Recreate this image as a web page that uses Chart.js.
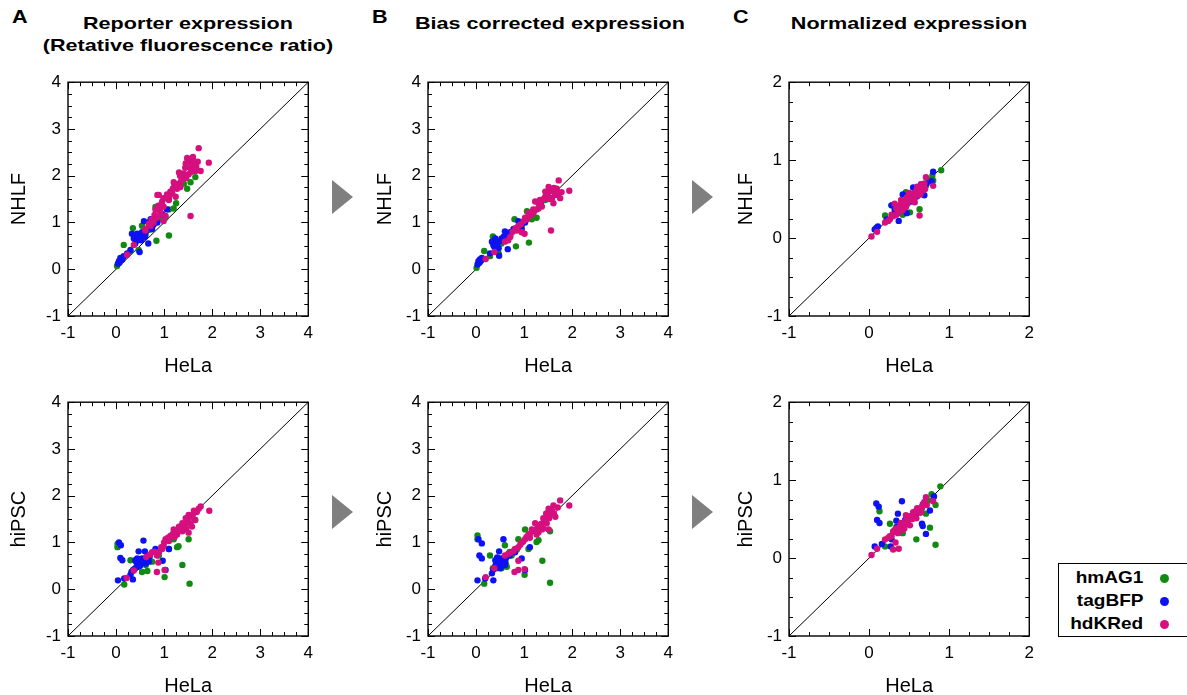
<!DOCTYPE html>
<html>
<head>
<meta charset="utf-8">
<script src="https://cdn.jsdelivr.net/npm/chart.js@4.4.1/dist/chart.umd.min.js"></script>
<style>
	body { margin: 0; background: #fff; font-family: "Liberation Sans", Arial, sans-serif; }
	#wrap { position: relative; width: 1187px; height: 695px; overflow: hidden; background: #fff; }
	canvas { position: absolute; }
	.txt { position: absolute; white-space: nowrap; font-weight: bold; color: #000; }
	.title { font-size: 17px; text-align: center; transform: scaleX(1.27); transform-origin: center; line-height: 22px; }
	.letter { font-size: 18px; transform: scaleX(1.2); transform-origin: left; }
	.arrow { position: absolute; width: 0; height: 0; border-top: 17px solid transparent; border-bottom: 17px solid transparent; border-left: 21px solid #7f7f7f; }
	#legend { position: absolute; left: 1058px; top: 563px; width: 150px; height: 72px; border: 1px solid #000; }
	.lrow { position: absolute; left: 0; width: 150px; height: 22px; }
	.lrow span { position: absolute; right: 66px; font-size: 17px; font-weight: bold; line-height: 22px; transform: scaleX(1.12); transform-origin: right; }
	.lrow i { position: absolute; left: 101px; top: 7px; width: 9px; height: 9px; border-radius: 50%; }
</style>
</head>
<body>
<div id="wrap">
	<div class="txt letter" style="left:12px;top:7px">A</div>
	<div class="txt letter" style="left:372px;top:7px">B</div>
	<div class="txt letter" style="left:733px;top:7px">C</div>
	<div class="txt title" style="left:38px;width:300px;top:13px">Reporter expression<br>(Retative fluorescence ratio)</div>
	<div class="txt title" style="left:400px;width:300px;top:13px">Bias corrected expression</div>
	<div class="txt title" style="left:759px;width:300px;top:13px">Normalized expression</div>
	<div class="arrow" style="left:332px;top:180px"></div>
	<div class="arrow" style="left:692px;top:180px"></div>
	<div class="arrow" style="left:332px;top:495px"></div>
	<div class="arrow" style="left:692px;top:495px"></div>
	<div id="legend"></div>
</div>
<script>
// Series and axis data ------------------------------------------------------

const seriesNames = ['hmAG1', 'tagBFP', 'hdKRed'];
const seriesColors = ['#128a12', '#0c12f2', '#d5107e'];

const ticksAB = [-1, 0, 1, 2, 3, 4];
const ticksC = [-1, 0, 1, 2];
const diagAB = [-1, 4];
const diagC = [-1, 2];

// A, NHLF vs HeLa
const repNhlfAG = [[0.02,0.07],[0.16,0.52],[0.35,0.88],[0.47,0.41],[0.84,0.61],[1.10,0.72],[1.25,1.41],[1.10,1.28],[0.82,1.33],[1.48,1.72],[1.65,1.97],[0.89,1.07],[0.54,0.93],[0.40,0.66],[0.65,0.83],[0.30,0.38],[1.03,1.10],[1.41,1.83],[0.60,0.75],[0.95,1.18],[1.20,1.30],[1.55,1.86],[0.72,0.85]];
const repNhlfBFP = [[0.06,0.17],[0.09,0.24],[0.13,0.21],[0.04,0.12],[0.33,0.76],[0.37,0.66],[0.47,0.69],[0.58,1.03],[0.68,1.00],[0.67,0.55],[0.49,0.37],[0.30,0.41],[0.54,0.79],[0.61,0.72],[0.75,0.86],[0.82,1.07],[0.96,1.17],[1.06,1.28],[0.40,0.55],[0.23,0.34],[0.16,0.28],[0.72,1.07],[0.44,0.76],[0.50,0.72],[0.56,0.75],[0.62,0.80],[0.45,0.62],[0.52,0.62],[0.58,0.68],[0.70,0.90],[0.78,0.95],[0.86,1.00],[0.40,0.70],[0.07,0.14],[0.11,0.19]];
const repNhlfKRed = [[1.72,2.59],[1.93,2.28],[1.48,2.38],[1.55,1.14],[1.58,2.24],[1.65,2.10],[1.76,2.10],[1.44,2.17],[1.31,2.07],[1.51,2.03],[1.20,1.86],[1.38,1.93],[1.27,1.72],[1.13,1.66],[0.89,1.59],[1.03,1.52],[1.10,1.48],[0.99,1.34],[0.82,1.28],[0.92,1.24],[1.03,1.14],[0.99,1.03],[0.85,1.10],[0.72,0.93],[0.68,0.97],[0.61,0.86],[0.78,1.00],[0.37,0.52],[0.23,0.31],[1.31,1.83],[1.62,2.31],[1.55,2.17],[1.17,1.62],[0.96,1.45],[1.24,1.55],[1.41,1.97],[1.21,1.83],[1.34,1.76],[0.99,1.52],[0.89,1.31],[0.86,1.59],[0.61,0.83],[1.49,2.35],[1.62,2.21],[1.45,2.26],[1.52,2.30],[1.60,2.40],[1.67,2.19],[1.56,2.08],[1.40,2.05],[1.46,1.95],[1.35,1.88],[1.25,1.78],[1.18,1.72],[1.06,1.60],[0.95,1.40],[0.88,1.36],[0.80,1.16],[0.74,1.06],[1.10,1.55],[1.70,2.30],[1.58,2.15],[1.33,2.00],[0.92,1.18]];

// B, NHLF vs HeLa
const biasNhlfAG = [[0.01,0.03],[0.17,0.39],[0.35,0.70],[0.83,0.49],[1.10,0.57],[0.80,1.07],[1.06,1.24],[1.26,1.10],[1.44,1.48],[1.65,1.62],[0.47,0.34],[0.67,0.72],[0.53,0.55],[0.95,0.93],[0.29,0.28],[1.16,1.07],[0.60,0.68],[0.90,0.98],[1.20,1.25],[1.50,1.55]];
const biasNhlfBFP = [[0.05,0.17],[0.08,0.21],[0.03,0.10],[0.12,0.24],[0.33,0.59],[0.36,0.52],[0.29,0.34],[0.48,0.29],[0.66,0.43],[0.60,0.81],[0.71,0.72],[0.43,0.55],[0.53,0.66],[0.78,0.86],[0.88,1.03],[0.95,0.86],[1.02,1.00],[0.47,0.45],[0.40,0.66],[0.64,0.62],[0.50,0.60],[0.55,0.63],[0.44,0.58],[0.58,0.70],[0.68,0.78],[0.73,0.80],[0.62,0.68],[0.38,0.48],[0.07,0.14],[0.10,0.18]];
const biasNhlfKRed = [[1.72,1.90],[1.94,1.68],[1.51,1.76],[1.56,0.83],[1.75,1.52],[1.65,1.59],[1.54,1.66],[1.44,1.55],[1.33,1.48],[1.23,1.45],[1.37,1.34],[1.19,1.28],[1.09,1.21],[1.02,1.10],[0.99,1.03],[0.88,0.93],[0.85,0.83],[0.95,0.79],[1.01,0.76],[0.71,0.69],[0.67,0.62],[0.60,0.59],[0.38,0.37],[0.20,0.22],[1.61,1.41],[1.33,1.38],[1.16,1.17],[1.26,1.28],[1.47,1.62],[1.68,1.72],[1.30,1.41],[1.06,1.07],[1.58,1.68],[1.48,1.58],[1.40,1.50],[1.62,1.74],[1.70,1.62],[1.52,1.50],[1.30,1.30],[1.20,1.22],[1.12,1.15],[0.93,0.96],[0.82,0.88],[0.76,0.80],[1.44,1.66],[1.35,1.45],[1.58,1.52],[1.78,1.65]];

// C, NHLF vs HeLa
const normNhlfAG = [[0.20,0.29],[0.28,0.42],[0.51,0.33],[0.63,0.37],[0.79,0.80],[0.90,0.87],[0.80,0.74],[0.71,0.67],[0.46,0.59],[0.59,0.53],[0.36,0.36],[0.42,0.30],[0.55,0.56],[0.66,0.62],[0.48,0.44],[0.74,0.75]];
const normNhlfBFP = [[0.07,0.11],[0.11,0.15],[0.09,0.13],[0.28,0.42],[0.37,0.22],[0.47,0.32],[0.80,0.85],[0.78,0.73],[0.69,0.55],[0.42,0.56],[0.55,0.65],[0.38,0.40],[0.32,0.36],[0.65,0.69],[0.22,0.24],[0.45,0.47],[0.50,0.52],[0.58,0.60],[0.62,0.62],[0.35,0.41],[0.60,0.54],[0.72,0.70],[0.52,0.47]];
const normNhlfKRed = [[0.03,0.02],[0.10,0.08],[0.20,0.20],[0.26,0.24],[0.32,0.44],[0.36,0.32],[0.42,0.36],[0.46,0.40],[0.51,0.49],[0.55,0.57],[0.59,0.61],[0.63,0.65],[0.71,0.78],[0.80,0.67],[0.63,0.29],[0.49,0.53],[0.40,0.44],[0.53,0.51],[0.61,0.55],[0.67,0.61],[0.34,0.30],[0.57,0.46],[0.44,0.46],[0.65,0.69],[0.30,0.28],[0.38,0.40],[0.45,0.48],[0.48,0.45],[0.52,0.54],[0.56,0.52],[0.58,0.58],[0.62,0.60],[0.66,0.64],[0.69,0.70],[0.60,0.66],[0.50,0.58],[0.42,0.42],[0.38,0.34],[0.34,0.38],[0.28,0.30],[0.24,0.22],[0.47,0.52],[0.54,0.49],[0.64,0.56],[0.70,0.63],[0.40,0.49]];

// A, hiPSC vs HeLa
const repIpscAG = [[0.03,0.97],[0.03,0.90],[0.17,0.10],[0.30,0.62],[0.54,0.37],[0.65,0.39],[1.01,0.26],[1.38,0.52],[1.53,0.12],[1.27,0.90],[1.51,1.07],[1.65,1.48],[0.89,0.72],[0.47,0.55],[0.75,0.59],[1.10,0.86],[1.20,1.07],[0.55,0.62],[0.85,0.78],[1.30,0.92],[0.62,0.52],[0.35,0.40]];
const repIpscBFP = [[0.06,1.00],[0.10,0.94],[0.09,0.67],[0.13,0.62],[0.04,0.19],[0.17,0.23],[0.35,0.21],[0.32,0.37],[0.57,1.04],[0.47,0.81],[0.60,0.81],[0.40,0.62],[0.51,0.55],[0.46,0.48],[0.61,0.55],[0.68,0.59],[0.97,0.61],[1.03,0.41],[0.82,0.86],[1.10,0.86],[0.54,0.66],[0.30,0.31],[0.48,0.60],[0.52,0.64],[0.55,0.58],[0.42,0.58],[0.45,0.52],[0.58,0.62],[0.50,0.50],[0.40,0.45],[0.36,0.42],[0.62,0.66],[0.70,0.70],[0.44,0.66]];
const repIpscKRed = [[1.94,1.68],[1.76,1.77],[1.62,1.68],[1.51,1.59],[1.48,1.48],[1.38,1.41],[1.55,1.41],[1.44,1.28],[1.31,1.34],[1.20,1.28],[1.13,1.14],[1.03,1.07],[0.99,0.93],[0.89,0.79],[0.85,0.72],[0.75,0.79],[0.63,0.69],[0.88,0.57],[0.85,0.37],[1.01,0.41],[0.37,0.40],[0.22,0.24],[1.64,1.48],[1.38,1.24],[1.10,1.03],[0.96,0.86],[1.51,1.21],[1.58,1.34],[1.27,1.17],[1.45,1.52],[1.56,1.55],[1.68,1.65],[1.50,1.42],[1.42,1.36],[1.35,1.32],[1.26,1.24],[1.18,1.18],[1.08,1.10],[1.00,1.00],[0.94,0.90],[0.80,0.80],[0.70,0.74],[1.60,1.60],[1.72,1.72],[1.46,1.30],[1.22,1.12]];

// B, hiPSC vs HeLa
const biasIpscAG = [[0.03,1.15],[0.03,1.07],[0.17,0.12],[0.29,0.72],[0.60,0.94],[0.53,0.45],[0.64,0.48],[1.01,0.31],[1.38,0.61],[1.54,0.14],[1.26,1.01],[1.54,1.24],[1.02,1.28],[0.88,1.07],[0.43,0.45],[0.74,0.72],[1.09,0.86],[0.55,0.62],[0.85,0.85],[1.30,1.05],[0.62,0.55],[0.35,0.45],[0.70,0.80]];
const biasIpscBFP = [[0.05,1.07],[0.12,0.98],[0.07,0.72],[0.12,0.66],[0.03,0.19],[0.19,0.23],[0.36,0.19],[0.33,0.34],[0.57,1.07],[0.48,0.81],[0.40,0.62],[0.47,0.55],[0.53,0.59],[0.60,0.52],[0.57,0.66],[0.67,0.72],[0.95,0.66],[1.02,0.41],[1.12,0.90],[0.81,0.79],[0.50,0.45],[0.48,0.62],[0.52,0.66],[0.55,0.58],[0.42,0.58],[0.45,0.52],[0.58,0.62],[0.50,0.55],[0.40,0.50],[0.36,0.42],[0.62,0.66],[0.70,0.72],[0.44,0.68],[0.55,0.50],[0.60,0.58]];
const biasIpscKRed = [[1.94,1.79],[1.75,1.90],[1.61,1.79],[1.51,1.72],[1.65,1.55],[1.54,1.59],[1.40,1.52],[1.47,1.41],[1.33,1.38],[1.23,1.41],[1.16,1.28],[1.09,1.17],[1.02,1.07],[0.95,1.00],[0.88,0.90],[0.81,0.86],[0.67,0.76],[0.60,0.72],[0.88,0.61],[0.80,0.37],[0.88,0.41],[1.01,0.43],[0.38,0.45],[0.20,0.26],[1.37,1.28],[1.51,1.28],[1.26,1.17],[1.12,1.10],[1.46,1.62],[1.58,1.68],[1.70,1.75],[1.52,1.52],[1.44,1.45],[1.36,1.40],[1.28,1.32],[1.20,1.26],[1.12,1.18],[1.05,1.12],[0.98,1.02],[0.92,0.95],[0.78,0.82],[0.72,0.78],[1.62,1.62],[1.40,1.30],[1.30,1.22]];

// C, hiPSC vs HeLa
const normIpscAG = [[0.13,0.60],[0.20,0.15],[0.26,0.44],[0.59,0.24],[0.76,0.39],[0.83,0.17],[0.89,0.92],[0.78,0.82],[0.83,0.68],[0.71,0.57],[0.42,0.32],[0.34,0.40],[0.51,0.53],[0.55,0.55],[0.66,0.64],[0.48,0.46],[0.74,0.74],[0.30,0.34]];
const normIpscBFP = [[0.09,0.70],[0.12,0.66],[0.10,0.49],[0.13,0.45],[0.07,0.15],[0.16,0.18],[0.27,0.15],[0.28,0.24],[0.41,0.73],[0.36,0.57],[0.34,0.48],[0.66,0.44],[0.67,0.41],[0.71,0.31],[0.76,0.61],[0.81,0.79],[0.59,0.57],[0.46,0.44],[0.38,0.36],[0.45,0.49],[0.50,0.50],[0.58,0.58],[0.62,0.60],[0.35,0.40],[0.55,0.53],[0.40,0.42]];
const normIpscKRed = [[0.03,0.04],[0.10,0.12],[0.20,0.24],[0.26,0.28],[0.30,0.11],[0.37,0.12],[0.33,0.20],[0.32,0.36],[0.38,0.40],[0.44,0.44],[0.49,0.49],[0.53,0.53],[0.57,0.57],[0.61,0.63],[0.67,0.69],[0.71,0.78],[0.80,0.73],[0.51,0.42],[0.42,0.36],[0.59,0.51],[0.65,0.59],[0.36,0.32],[0.55,0.59],[0.46,0.55],[0.45,0.47],[0.48,0.45],[0.52,0.54],[0.56,0.55],[0.58,0.60],[0.62,0.60],[0.66,0.66],[0.69,0.72],[0.60,0.64],[0.50,0.52],[0.42,0.42],[0.38,0.36],[0.34,0.38],[0.28,0.28],[0.24,0.26],[0.47,0.50],[0.54,0.50],[0.64,0.58],[0.72,0.68],[0.40,0.45],[0.30,0.33],[0.44,0.38]];

// Layout constants ----------------------------------------------------------

const CONFIG = {
	PLOT_W: 242,
	PLOT_H: 241,
	PAD_TOP: 10,
	PAD_RIGHT: 10,
	X_AXIS_H: 62,
	MINOR_STEP: 0.25,
	MAJOR_LEN: 7,
	MINOR_LEN: 4,
	POINT_R: 3.2,
	FONT: '"Liberation Sans", Arial, sans-serif'
};

const panels = [
	{ left: 68,  top: 75,  yW: 61, ticks: ticksAB, diag: diagAB, yTitle: 'NHLF',  data: [repNhlfAG, repNhlfBFP, repNhlfKRed] },
	{ left: 428, top: 75,  yW: 55, ticks: ticksAB, diag: diagAB, yTitle: 'NHLF',  data: [biasNhlfAG, biasNhlfBFP, biasNhlfKRed] },
	{ left: 789, top: 75,  yW: 55, ticks: ticksC,  diag: diagC,  yTitle: 'NHLF',  data: [normNhlfAG, normNhlfBFP, normNhlfKRed] },
	{ left: 68,  top: 395, yW: 61, ticks: ticksAB, diag: diagAB, yTitle: 'hiPSC', data: [repIpscAG, repIpscBFP, repIpscKRed] },
	{ left: 428, top: 395, yW: 55, ticks: ticksAB, diag: diagAB, yTitle: 'hiPSC', data: [biasIpscAG, biasIpscBFP, biasIpscKRed] },
	{ left: 789, top: 395, yW: 55, ticks: ticksC,  diag: diagC,  yTitle: 'hiPSC', data: [normIpscAG, normIpscBFP, normIpscKRed] }
];

// Frame with inward ticks on all four sides
const frameTicks = {
	id: 'frameTicks',
	afterDatasetsDraw(chart) {
		const { ctx, chartArea: a, scales: { x, y } } = chart;
		ctx.save();
		ctx.strokeStyle = '#000';
		ctx.lineWidth = 1;
		ctx.beginPath();
		const isMajor = (v) => Math.abs(v - Math.round(v)) < 1e-6;
		for (let v = x.min; v <= x.max + 1e-6; v += CONFIG.MINOR_STEP) {
			const px = Math.round(x.getPixelForValue(v)) + 0.5;
			const len = isMajor(v) ? CONFIG.MAJOR_LEN : CONFIG.MINOR_LEN;
			ctx.moveTo(px, a.bottom); ctx.lineTo(px, a.bottom - len);
			ctx.moveTo(px, a.top); ctx.lineTo(px, a.top + len);
		}
		for (let v = y.min; v <= y.max + 1e-6; v += CONFIG.MINOR_STEP) {
			const py = Math.round(y.getPixelForValue(v)) + 0.5;
			const len = isMajor(v) ? CONFIG.MAJOR_LEN : CONFIG.MINOR_LEN;
			ctx.moveTo(a.left, py); ctx.lineTo(a.left + len, py);
			ctx.moveTo(a.right, py); ctx.lineTo(a.right - len, py);
		}
		ctx.stroke();
		ctx.lineWidth = 1.4;
		ctx.strokeRect(a.left, a.top, a.right - a.left, a.bottom - a.top);
		ctx.restore();
	}
};

function axisOptions(ticks, title, fit) {
	return {
		type: 'linear',
		min: ticks[0],
		max: ticks[ticks.length - 1],
		afterFit: fit,
		afterBuildTicks: (s) => { s.ticks = ticks.map(v => ({ value: v })); },
		grid: { display: false, drawTicks: false },
		border: { display: false },
		ticks: { color: '#000', padding: 7, autoSkip: false, maxRotation: 0, font: { size: 17, family: CONFIG.FONT } },
		title: { display: true, text: title, color: '#000', padding: 0, font: { size: 20, family: CONFIG.FONT } }
	};
}

function makePanel(p) {
	const wrap = document.getElementById('wrap');
	const canvas = document.createElement('canvas');
	const w = p.yW + CONFIG.PLOT_W + CONFIG.PAD_RIGHT;
	const h = CONFIG.PAD_TOP + CONFIG.PLOT_H + CONFIG.X_AXIS_H;
	canvas.width = w;
	canvas.height = h;
	canvas.style.left = (p.left - p.yW) + 'px';
	canvas.style.top = (p.top - CONFIG.PAD_TOP) + 'px';
	canvas.style.width = w + 'px';
	canvas.style.height = h + 'px';
	wrap.appendChild(canvas);

	const datasets = p.data.map((pts, i) => ({
		type: 'scatter',
		label: seriesNames[i],
		data: pts.map(([x, y]) => ({ x, y })),
		backgroundColor: seriesColors[i],
		borderWidth: 0,
		pointRadius: CONFIG.POINT_R,
		order: 3 - i
	}));
	datasets.push({
		type: 'line',
		label: 'diagonal',
		data: p.diag.map(v => ({ x: v, y: v })),
		borderColor: '#000',
		borderWidth: 1,
		pointRadius: 0,
		fill: false,
		order: 4
	});

	new Chart(canvas, {
		data: { datasets },
		options: {
			responsive: false,
			animation: false,
			devicePixelRatio: 1,
			layout: { padding: { top: CONFIG.PAD_TOP, right: CONFIG.PAD_RIGHT, left: 0, bottom: 0 } },
			scales: {
				x: axisOptions(p.ticks, 'HeLa', (s) => { s.height = CONFIG.X_AXIS_H; }),
				y: axisOptions(p.ticks, p.yTitle, (s) => { s.width = p.yW; })
			},
			plugins: { legend: { display: false }, tooltip: { enabled: false } }
		},
		plugins: [frameTicks]
	});
}

function makeLegend() {
	const box = document.getElementById('legend');
	seriesNames.forEach((name, i) => {
		const row = document.createElement('div');
		row.className = 'lrow';
		row.style.top = (3 + i * 23) + 'px';
		row.innerHTML = `<span>${name}</span><i style="background:${seriesColors[i]}"></i>`;
		box.appendChild(row);
	});
}

panels.forEach(makePanel);
makeLegend();
</script>
</body>
</html>
